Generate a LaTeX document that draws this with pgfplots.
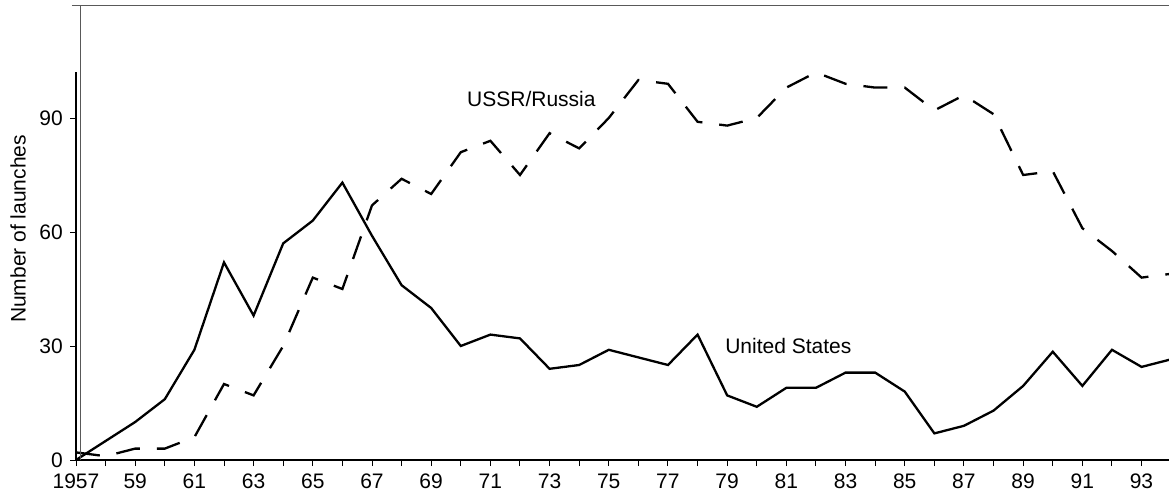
\documentclass[border=0pt]{standalone}
\usepackage{fontspec}
\setmainfont{Liberation Sans}
\usepackage{pgfplots}
\pgfplotsset{compat=1.18}
\begin{document}
\fontsize{21bp}{25bp}\selectfont
\begin{tikzpicture}
\begin{axis}[
  scale only axis,
  width=1095.2bp, height=387.6bp,
  xmin=1957, xmax=1994, ymin=0, ymax=102,
  clip=false,
  axis x line=bottom, axis y line=left,
  axis line style={-},
  x axis line style={line width=1.8bp},
  y axis line style={line width=1.3bp},
  tick align=outside,
  major tick length=6bp,
  tick style={black, line width=0.9bp},
  xtick={1957,...,1993},
  xticklabels={1957,,59,,61,,63,,65,,67,,69,,71,,73,,75,,77,,79,,81,,83,,85,,87,,89,,91,,93},
  ytick={0,30,60,90},
  ticklabel style={font=\fontsize{21bp}{25bp}\selectfont},
  /pgf/number format/assume math mode=true,
  xticklabel style={yshift=-1bp},
]
\addplot[black, line width=2.3bp, line join=miter] coordinates {
(1957,0) (1958,5) (1959,10) (1960,16) (1961,29) (1962,52) (1963,38) (1964,57)
(1965,63) (1966,73) (1967,59) (1968,46) (1969,40) (1970,30) (1971,33) (1972,32)
(1973,24) (1974,25) (1975,29) (1976,27) (1977,25) (1978,33) (1979,17) (1980,14)
(1981,19) (1982,19) (1983,23) (1984,23) (1985,18) (1986,7) (1987,9) (1988,13)
(1989,19.5) (1990,28.5) (1991,19.5) (1992,29) (1993,24.5) (1994,26.5)
};
\addplot[black, line width=2.3bp, dash pattern=on 24bp off 17bp] coordinates {
(1957,2) (1958,1) (1959,3) (1960,3) (1961,6) (1962,20) (1963,17) (1964,30)
(1965,48) (1966,45) (1967,67) (1968,74) (1969,70) (1970,81) (1971,84) (1972,75)
(1973,86) (1974,82) (1975,90) (1976,100) (1977,99) (1978,89) (1979,88) (1980,90)
(1981,98) (1982,102) (1983,99) (1984,98) (1985,98) (1986,92) (1987,96) (1988,91)
(1989,75) (1990,76) (1991,61) (1992,55) (1993,48) (1994,49)
};
\draw[black!65, line width=1.2bp] (axis cs:1957.14,0) -- (axis cs:1957.14,119.5);
\draw[black!65, line width=1.2bp] (axis cs:1956.86,119.5) -- (axis cs:1995,119.5);
\node[anchor=base west, inner sep=0pt] at (axis cs:1970.21,92.9) {USSR/Russia};
\node[anchor=base west, inner sep=0pt] at (axis cs:1978.93,27.9) {United States};
\node[rotate=90, inner sep=0pt] at ([xshift=-58bp]axis cs:1957,60.8) {Number of launches};
\end{axis}
\pgfresetboundingbox
\path (-76bp,-38bp) rectangle (1093bp,460bp);
\end{tikzpicture}
\end{document}
